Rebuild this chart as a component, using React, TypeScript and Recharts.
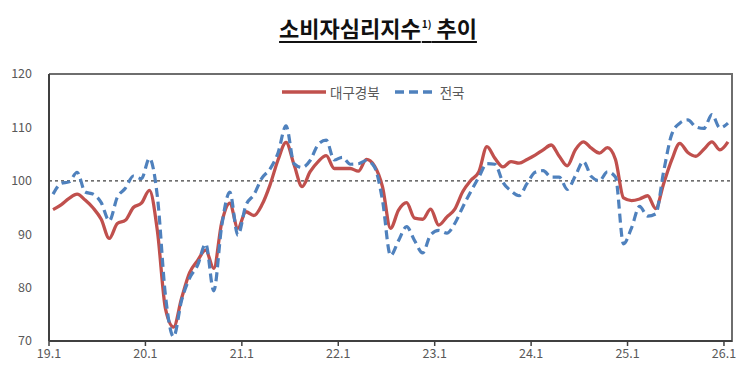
import { Legend, Line, LineChart, ReferenceLine, XAxis, YAxis } from "recharts"

// 월별 (2019.1 ~ 2026.1)
const tickLabels = ["19.1", "20.1", "21.1", "22.1", "23.1", "24.1", "25.1", "26.1"]

const daegu = [
  94.6, 95.5, 96.7, 97.5, 96.4, 94.9, 92.8, 89.2, 92.0, 92.6, 95.0, 95.8,
  98.2, 90.5, 76.0, 72.6, 78.0, 82.8, 85.1, 87.0, 83.6, 92.2, 95.8, 91.1,
  94.2, 93.5, 95.5, 99.2, 103.9, 107.2, 103.0, 98.9, 101.7, 103.6, 104.7, 102.3,
  102.3, 102.3, 101.8, 104.0, 102.8, 98.9, 91.1, 94.5, 95.9, 93.0, 92.8, 94.7,
  91.7, 93.2, 94.7, 98.0, 100.1, 101.7, 106.4, 104.2, 102.6, 103.6, 103.3, 104.0,
  104.8, 105.8, 106.7, 104.6, 102.8, 105.8, 107.3, 106.1, 105.2, 106.2, 104.0, 96.8,
  96.3, 96.6, 97.2, 94.8, 99.5, 103.9, 107.0, 105.3, 104.6, 105.9, 107.3, 105.8,
  107.3,
]

const national = [
  97.5, 99.5, 99.8, 101.6, 97.9, 97.5, 95.9, 92.5, 96.9, 98.6, 100.9, 100.4,
  104.2, 96.9, 78.4, 70.8, 77.6, 81.8, 84.2, 88.2, 79.4, 91.6, 97.9, 89.8,
  95.4, 97.4, 100.5, 102.2, 105.2, 110.3, 103.2, 102.5, 103.8, 106.8, 107.6, 103.9,
  104.4, 103.1, 103.2, 103.8, 102.6, 96.4, 86.0, 88.8, 91.4, 88.8, 86.5, 89.9,
  90.7, 90.2, 92.0, 95.1, 98.0, 100.7, 103.2, 103.1, 99.7, 98.1, 97.2, 99.5,
  101.6, 101.9, 100.7, 100.7, 98.4, 100.9, 103.6, 100.8, 100.0, 101.7, 100.7, 88.2,
  91.2, 95.2, 93.4, 93.8, 101.8, 108.7, 110.8, 111.4, 110.1, 109.8, 112.4, 109.9,
  110.8,
]

const yTicks = [70, 80, 90, 100, 110, 120]

const RED = "#C0504D"
const BLUE = "#4F81BD"
const FONT = "'Noto Sans CJK KR', 'Noto Sans', sans-serif"

const data = daegu.map((v, i) => ({ x: i + 0.5, daegu: v, national: national[i] }))

function LegendBox() {
  return (
    <div style={{ display: "flex", alignItems: "center", fontFamily: FONT, fontSize: 13.5, color: "#595959" }}>
      <svg width={46} height={10}>
        <line x1={1} y1={5} x2={45} y2={5} stroke={RED} strokeWidth={3.5} />
      </svg>
      <span style={{ marginLeft: 3, marginRight: 14 }}>대구경북</span>
      <svg width={42} height={10}>
        <line x1={1} y1={5} x2={41} y2={5} stroke={BLUE} strokeWidth={3.5} strokeDasharray="9 5" />
      </svg>
      <span style={{ marginLeft: 4 }}>전국</span>
    </div>
  )
}

export default function App() {
  return (
    <div style={{ position: "absolute", left: 0, top: 0, width: 756, height: 381, background: "#fff" }}>
      <div
        style={{
          position: "absolute",
          top: 11,
          left: 0,
          width: 756,
          textAlign: "center",
          fontFamily: FONT,
          fontWeight: 700,
          fontSize: 22,
          color: "#111",
        }}
      >
        <span style={{ textDecoration: "underline", textUnderlineOffset: 4, textDecorationThickness: 1.5 }}>
          소비자심리지수<sup style={{ fontSize: 10, verticalAlign: 9, marginLeft: 1 }}>1)</sup> 추이
        </span>
      </div>
      {/* plot box: top and right edges */}
      <div
        style={{
          position: "absolute",
          left: 49,
          top: 73,
          width: 684,
          height: 269,
          boxSizing: "border-box",
          borderTop: "2px solid #6e6e6e",
          borderRight: "2px solid #6e6e6e",
          pointerEvents: "none",
        }}
      />
      <LineChart width={756} height={381} data={data} margin={{ top: 74, right: 24, left: 0, bottom: 0 }}>
        <XAxis
          type="number"
          dataKey="x"
          domain={[0, 85]}
          ticks={[0, 12, 24, 36, 48, 60, 72, 84]}
          tickFormatter={(v: number) => tickLabels[v / 12]}
          height={40}
          axisLine={{ stroke: "#404040", strokeWidth: 2 }}
          tickLine={{ stroke: "#404040", strokeWidth: 1.5 }}
          tickSize={5}
          tickMargin={3}
          tick={{ fontSize: 12.5, fill: "#595959", fontFamily: FONT }}
          interval={0}
        />
        <YAxis
          domain={[70, 120]}
          ticks={yTicks}
          width={49}
          axisLine={{ stroke: "#404040", strokeWidth: 2 }}
          tickLine={false}
          tickSize={6}
          tickMargin={11}
          tick={{ fontSize: 12.5, fill: "#595959", fontFamily: FONT }}
          interval={0}
        />
        <ReferenceLine y={100} stroke="#404040" strokeWidth={1.3} strokeDasharray="3 3" />
        <Line
          type="monotone"
          dataKey="daegu"
          stroke={RED}
          strokeWidth={3.3}
          dot={false}
          isAnimationActive={false}
        />
        <Line
          type="monotone"
          dataKey="national"
          stroke={BLUE}
          strokeWidth={3.2}
          strokeDasharray="9 5"
          dot={false}
          isAnimationActive={false}
        />
        <Legend
          layout="horizontal"
          verticalAlign="middle"
          align="center"
          content={() => <LegendBox />}
          wrapperStyle={{ position: "absolute", top: 82, left: 281, width: 220 }}
        />
      </LineChart>
    </div>
  )
}
